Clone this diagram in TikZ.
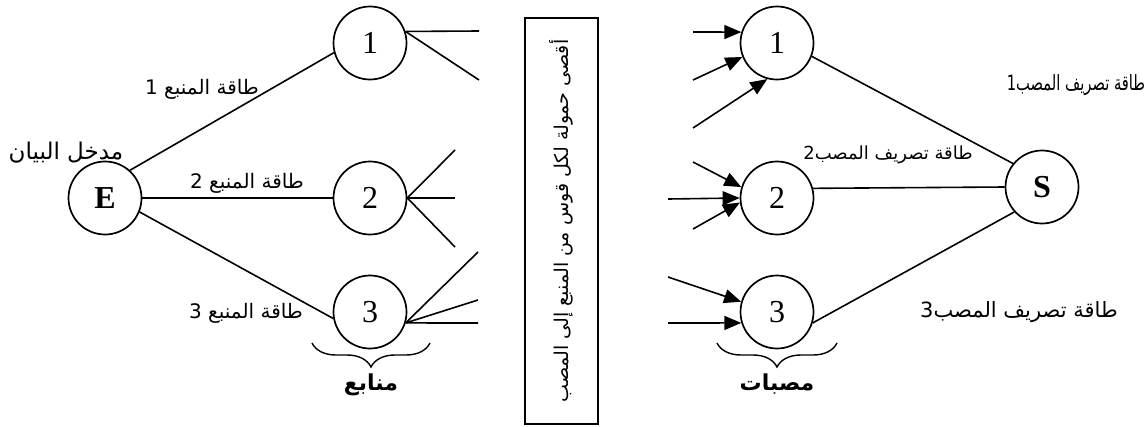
\documentclass[tikz,border=0pt]{standalone}
\usepackage{graphicx}
\usepackage{fontspec}
\setmainfont{Liberation Serif}
\newfontfamily\arabicfont[Script=Arabic]{DejaVu Sans}
\TeXXeTstate=1
\usetikzlibrary{arrows.meta, decorations.pathreplacing}

\tikzset{
  vertex/.style={circle, draw, line width=1.7pt, minimum size=73pt, inner sep=0pt,
    font=\fontsize{32}{32}\selectfont},
  arc/.style={line width=1.6pt},
  inarc/.style={line width=1.6pt, -{Triangle[length=17pt,width=14pt]}},
  arlabel/.style={inner sep=0pt, font=\arabicfont\fontsize{20}{22}\selectfont},
  grouplabel/.style={inner sep=0pt, font=\arabicfont\bfseries\fontsize{22}{24}\selectfont},
  groupbrace/.style={decorate, decoration={brace, mirror, amplitude=24pt}, line width=1.4pt},
}

\begin{document}
\begin{tikzpicture}[x=1pt, y=-1pt]
  \useasboundingbox (0,0) rectangle (1147,426);

  % --- Entry and sources ---
  \node[vertex, font=\bfseries\fontsize{32}{32}\selectfont] (E) at (105,198) {E};
  \node[vertex] (src1) at (370,43) {1};
  \node[vertex] (src2) at (370,198) {2};
  \node[vertex] (src3) at (370,312) {3};

  \draw[arc] (E.48) -- (src1.195);
  \draw[arc] (E.east) -- (src2.west);
  \draw[arc] (E.-22) -- (src3.190);

  \node[arlabel, font=\arabicfont\fontsize{23}{25}\selectfont] (lblE) at (66,153) {\beginR مدخل البيان\endR};
  \node[arlabel] (lblsrc1) at (202,89) {\beginR طاقة المنبع 1\endR};
  \node[arlabel] (lblsrc2) at (247,183) {\beginR طاقة المنبع 2\endR};
  \node[arlabel] (lblsrc3) at (246,313) {\beginR طاقة المنبع 3\endR};

  % arcs leaving the sources
  \coordinate (a1) at (479,31);
  \coordinate (a2) at (479,80);
  \coordinate (b1) at (455,150);
  \coordinate (b2) at (455,198);
  \coordinate (b3) at (455,247);
  \coordinate (c1) at (478,252);
  \coordinate (c2) at (478,300);
  \coordinate (c3) at (478,323);
  \draw[arc] (src1.18) -- (a1);
  \draw[arc] (src1.18) -- (a2);
  \draw[arc] (src2.east) -- (b1);
  \draw[arc] (src2.east) -- (b2);
  \draw[arc] (src2.east) -- (b3);
  \draw[arc] (src3.-17) -- (c1);
  \draw[arc] (src3.-17) -- (c2);
  \draw[arc] (src3.-17) -- (c3);

  % --- Capacity box ---
  \node[draw, line width=1.2pt, rotate=90, minimum width=406pt, minimum height=73pt,
    inner sep=0pt, font=\arabicfont\fontsize{19}{21}\selectfont] (capbox) at (561.5,221)
    {\beginR أقصى حمولة لكل قوس من المنبع إلى المصب\endR};

  % --- Sinks and exit ---
  \node[vertex] (snk1) at (777,43) {1};
  \node[vertex] (snk2) at (777,198) {2};
  \node[vertex] (snk3) at (777,312) {3};
  \node[vertex, font=\bfseries\fontsize{32}{32}\selectfont] (S) at (1042,187) {S};

  % arcs entering the sinks
  \coordinate (d1) at (693,32);
  \coordinate (d2) at (693,80);
  \coordinate (d3) at (693,128);
  \coordinate (e1) at (693,162);
  \coordinate (e2) at (668,199);
  \coordinate (e3) at (693,229);
  \coordinate (f1) at (668,277);
  \coordinate (f2) at (668,323);
  \draw[inarc] (d1) -- (snk1.163);
  \draw[inarc] (d2) -- (snk1.202);
  \draw[inarc] (d3) -- (snk1.255);
  \draw[inarc] (e1) -- (snk2.163);
  \draw[inarc] (e2) -- (snk2.west);
  \draw[inarc] (e3) -- (snk2.187);
  \draw[inarc] (f1) -- (snk3.164);
  \draw[inarc] (f2) -- (snk3.197);

  \draw[arc] (snk1.-21) -- (S.141);
  \draw[arc] (snk2.15) -- (S.180);
  \draw[arc] (snk3.-17) -- (S.222);

  \node[arlabel, font=\arabicfont\fontsize{21}{23}\selectfont] (lblsnk1) at (1076,85) {\scalebox{0.7}[1]{\beginR طاقة تصريف المصب1\endR}};
  \node[arlabel, font=\arabicfont\fontsize{18}{20}\selectfont] (lblsnk2) at (888,155) {\beginR طاقة تصريف المصب2\endR};
  \node[arlabel, font=\arabicfont\fontsize{21}{23}\selectfont] (lblsnk3) at (1019,312) {\beginR طاقة تصريف المصب3\endR};

  % --- Group braces ---
  \draw[groupbrace] (312,343) -- (430,343) node[midway, below=30pt, grouplabel] (lblsources) {\beginR منابع\endR};
  \draw[groupbrace] (717,343) -- (837,343) node[midway, below=30pt, grouplabel] (lblsinks) {\beginR مصبات\endR};
\end{tikzpicture}
\end{document}
